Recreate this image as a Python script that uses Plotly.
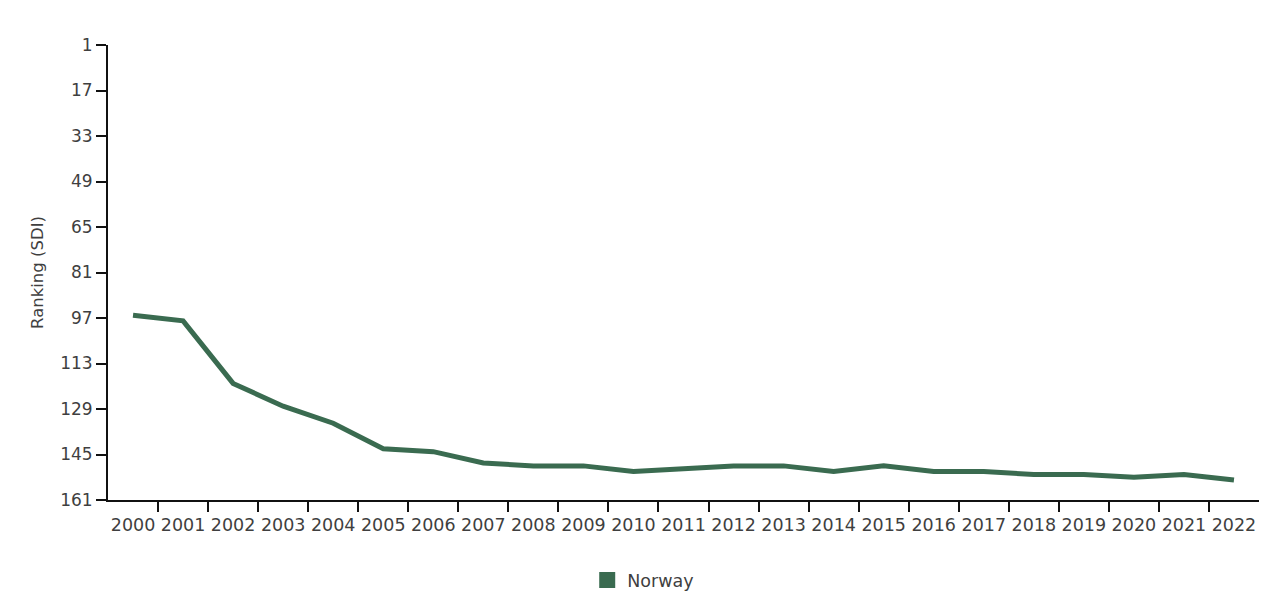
import plotly.graph_objects as go

years = [str(y) for y in range(2000, 2023)]
ranking = [96, 98, 120, 128, 134, 143, 144, 148, 149, 149, 151, 150, 149, 149,
           151, 149, 151, 151, 152, 152, 153, 152, 154]
y_ticks = [1, 17, 33, 49, 65, 81, 97, 113, 129, 145, 161]
series_name = "Norway"
color = "#3a6b50"

xs = list(range(len(years)))

fig = go.Figure()
fig.add_trace(go.Scatter(x=xs, y=ranking, mode="lines",
                         line=dict(color=color, width=5),
                         showlegend=False, name=series_name))
fig.add_trace(go.Scatter(x=[None], y=[None], mode="markers", name=series_name,
                         marker=dict(symbol="square", size=18, color=color)))

font_family = "DejaVu Sans, sans-serif"
fig.update_layout(
    width=1280, height=600,
    margin=dict(l=108, r=21, t=45, b=100, autoexpand=False),
    plot_bgcolor="white", paper_bgcolor="white",
    font=dict(family=font_family, size=17, color="#3f3f3f"),
    showlegend=True,
    legend=dict(orientation="h", x=0.465, xanchor="center", y=-0.176, yanchor="middle",
                font=dict(size=17.5, color="#3f3f3f")),
    xaxis=dict(range=[-0.5, len(years) - 0.5], tickmode="array", tickvals=xs, ticktext=years,
               ticks="", showgrid=False, zeroline=False,
               showline=True, linecolor="#111", linewidth=2,
               ticklabelstandoff=8,
               minor=dict(tickmode="array", tickvals=[i + 0.5 for i in xs[:-1]],
                          ticks="outside", ticklen=10, tickwidth=2, tickcolor="#111",
                          showgrid=False),
               tickfont=dict(size=17.5, color="#3f3f3f")),
    yaxis=dict(range=[161, 1], tickmode="array", tickvals=y_ticks,
               ticks="outside", ticklen=10, tickwidth=2, tickcolor="#111",
               showgrid=False, zeroline=False,
               showline=True, linecolor="#111", linewidth=2,
               title=dict(text="Ranking (SDI)", font=dict(size=16.5, color="#3f3f3f"), standoff=12),
               tickfont=dict(size=17, color="#3f3f3f")),
)

fig.write_html("out.html")
